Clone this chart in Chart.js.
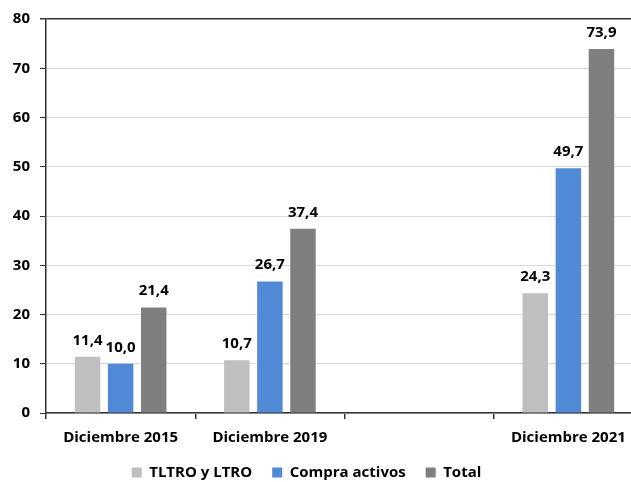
<!DOCTYPE html>
<html>
<head>
<meta charset="utf-8">
<script src="https://cdn.jsdelivr.net/npm/chart.js@4"></script>
<style>
  body { margin: 0; background: #fff; overflow: hidden; }
  #wrap { width: 631px; height: 482px; overflow: hidden; }
</style>
</head>
<body>
<div id="wrap">
  <canvas id="liquidez__chart" width="643" height="482"></canvas>
</div>
<script>
const categories = ["Diciembre 2015", "Diciembre 2019", "", "Diciembre 2021"]
const tltro = [11.4, 10.7, null, 24.3]
const compraActivos = [10.0, 26.7, null, 49.7]
const total = [21.4, 37.4, null, 73.9]
const yTicks = [0, 10, 20, 30, 40, 50, 60, 70, 80]

Chart.defaults.font.family = '"Open Sans", sans-serif'
Chart.defaults.font.weight = "bold"
Chart.defaults.font.size = 15
Chart.defaults.color = "#000"

// numeros encima de cada barra, con coma decimal
const valueLabels = {
  id: "valueLabels",
  afterDatasetsDraw(chart) {
    const ctx = chart.ctx
    ctx.save()
    ctx.font = 'bold 15px "Open Sans", sans-serif'
    ctx.fillStyle = "#000"
    ctx.textAlign = "center"
    ctx.textBaseline = "bottom"
    chart.data.datasets.forEach((ds, i) => {
      chart.getDatasetMeta(i).data.forEach((bar, j) => {
        const v = ds.data[j]
        if (v == null) return
        ctx.fillText(v.toFixed(1).replace(".", ","), bar.x, bar.y - 9)
      })
    })
    ctx.restore()
  },
}

// la leyenda va centrada en la parte visible (631px) y un poco mas arriba
const legendShift = {
  id: "legendShift",
  afterLayout(chart) {
    chart.legend.left -= 15
    chart.legend.right -= 15
    chart.legend.top -= 10
  },
}

const myChart = document.getElementById("liquidez__chart")
new Chart(myChart, {
  type: "bar",
  data: {
    labels: categories,
    datasets: [
      { label: "TLTRO y LTRO", data: tltro, backgroundColor: "#bfbfbf" },
      { label: "Compra activos", data: compraActivos, backgroundColor: "#5089d6" },
      { label: "Total", data: total, backgroundColor: "#7f7f7f" },
    ],
  },
  options: {
    responsive: false,
    animation: false,
    categoryPercentage: 0.665,
    barPercentage: 0.77,
    layout: { padding: { top: 17, left: 0, right: 0, bottom: 0 } },
    scales: {
      x: {
        afterFit: (s) => { s.height = 42 },
        grid: {
          display: true,
          drawOnChartArea: false,
          drawTicks: true,
          tickLength: 6,
          tickColor: "#333",
          lineWidth: 1.5,
        },
        border: { color: "#333", width: 1.5 },
        ticks: { padding: 10, maxRotation: 0, autoSkip: false },
      },
      y: {
        min: 0,
        max: 80,
        afterFit: (s) => { s.width = 46 },
        afterBuildTicks: (s) => { s.ticks = yTicks.map((v) => ({ value: v })) },
        grid: {
          color: (c) => (c.tick && c.tick.value === 80 ? "#333" : "#d9d9d9"),
          lineWidth: (c) => (c.tick && c.tick.value === 80 ? 1.5 : 1),
          tickLength: 6,
          tickColor: "#333",
        },
        border: { color: "#333", width: 1.5 },
        ticks: { padding: 10 },
      },
    },
    plugins: {
      legend: {
        position: "bottom",
        maxHeight: 27,
        labels: {
          boxWidth: 10,
          boxHeight: 10,
          padding: 20,
          font: { size: 15, weight: "bold" },
          color: "#000",
        },
      },
      tooltip: { enabled: false },
    },
  },
  plugins: [valueLabels, legendShift],
})
</script>
</body>
</html>
